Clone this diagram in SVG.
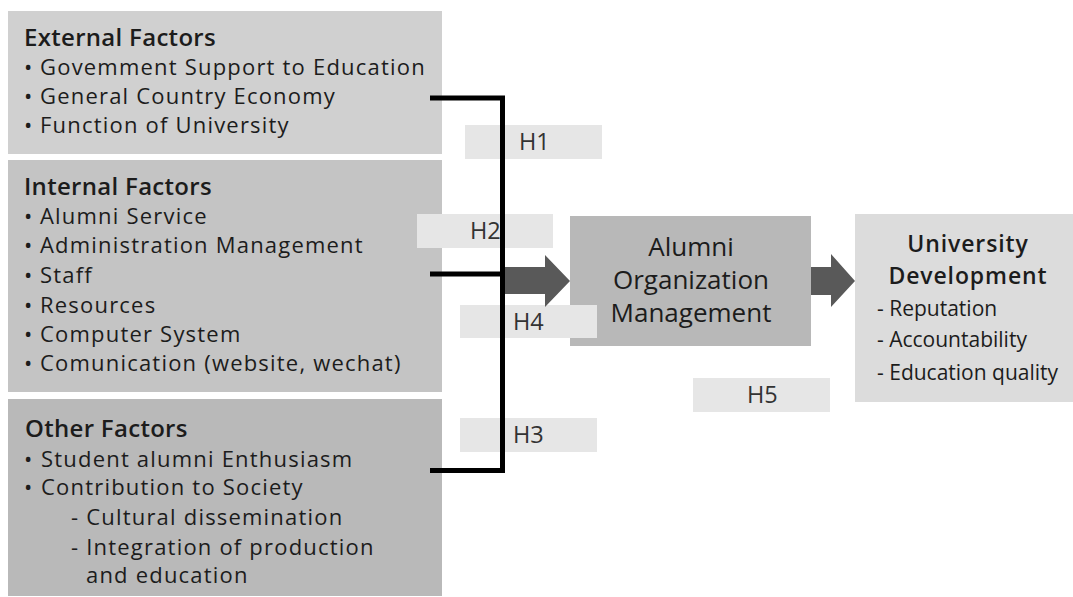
<svg xmlns="http://www.w3.org/2000/svg" width="1073" height="597" viewBox="0 0 1073 597">
  <style>
    .t { font-family: "Open Sans", "Liberation Sans", sans-serif; fill: #1c1c1c; }
    .item { font-size: 22px; letter-spacing: 1.2px; }
    .bullet { font-size: 22px; }
    .head { font-size: 24px; font-weight: 600; letter-spacing: 0.3px; }
    .sub { font-size: 21px; }
    .center { text-anchor: middle; }
    .mid { font-size: 26px; font-weight: 500; }
    .uhead { font-size: 23px; font-weight: 600; letter-spacing: 0.9px; }
    .lab-box { fill: #e6e6e6; }
    .lab { font-size: 23.5px; fill: #333333; }
    .conn { stroke: #000000; stroke-width: 5; fill: none; stroke-linejoin: miter; }
    .arrow { fill: #595959; }
  </style>

  <!-- factor groups -->
  <g id="external-factors">
    <rect x="8" y="11" width="434" height="143" fill="#d0d0d0"/>
    <text class="t head" x="24" y="46">External Factors</text>
    <text class="t bullet" x="24" y="75">•</text>
    <text class="t item" x="40" y="75">Govemment Support to Education</text>
    <text class="t bullet" x="24" y="104">•</text>
    <text class="t item" x="40" y="104">General Country Economy</text>
    <text class="t bullet" x="24" y="133">•</text>
    <text class="t item" x="40" y="133">Function of University</text>
  </g>

  <g id="internal-factors">
    <rect x="8" y="160" width="434" height="232" fill="#c4c4c4"/>
    <text class="t head" x="24" y="195">Internal Factors</text>
    <text class="t bullet" x="24" y="224">•</text>
    <text class="t item" x="40" y="224">Alumni Service</text>
    <text class="t bullet" x="24" y="253">•</text>
    <text class="t item" x="40" y="253">Administration Management</text>
    <text class="t bullet" x="24" y="283">•</text>
    <text class="t item" x="40" y="283">Staff</text>
    <text class="t bullet" x="24" y="313">•</text>
    <text class="t item" x="40" y="313">Resources</text>
    <text class="t bullet" x="24" y="342">•</text>
    <text class="t item" x="40" y="342">Computer System</text>
    <text class="t bullet" x="24" y="371">•</text>
    <text class="t item" x="40" y="371">Comunication (website, wechat)</text>
  </g>

  <g id="other-factors">
    <rect x="8" y="399" width="434" height="197" fill="#b9b9b9"/>
    <text class="t head" x="25" y="437">Other Factors</text>
    <text class="t bullet" x="24" y="467">•</text>
    <text class="t item" x="41" y="467">Student alumni Enthusiasm</text>
    <text class="t bullet" x="24" y="495">•</text>
    <text class="t item" x="41" y="495">Contribution to Society</text>
    <text class="t item" x="71" y="525">- Cultural dissemination</text>
    <text class="t item" x="71" y="555">- Integration of production</text>
    <text class="t item" x="86" y="583">and education</text>
  </g>

  <!-- central and outcome nodes -->
  <g id="alumni-organization-management">
    <rect x="570" y="216" width="241" height="130" fill="#b8b8b8"/>
    <text class="t mid center" x="691" y="256">Alumni</text>
    <text class="t mid center" x="691" y="289">Organization</text>
    <text class="t mid center" x="691" y="322">Management</text>
  </g>

  <g id="university-development">
    <rect x="855" y="214" width="226" height="188" fill="#dcdcdc"/>
    <text class="t uhead center" x="968" y="252">University</text>
    <text class="t uhead center" x="968" y="284">Development</text>
    <text class="t sub" x="877" y="316">- Reputation</text>
    <text class="t sub" x="877" y="347">- Accountability</text>
    <text class="t sub" x="877" y="380">- Education quality</text>
  </g>

  <!-- hypothesis labels -->
  <g id="label-h1">
    <rect class="lab-box" x="465" y="125" width="137" height="34"/>
    <text class="t lab" x="519" y="150">H1</text>
  </g>
  <g id="label-h2">
    <rect class="lab-box" x="417" y="214" width="136" height="34"/>
    <text class="t lab" x="470" y="239">H2</text>
  </g>
  <g id="label-h4">
    <rect class="lab-box" x="460" y="305" width="137" height="33"/>
    <text class="t lab" x="513" y="330">H4</text>
  </g>
  <g id="label-h3">
    <rect class="lab-box" x="460" y="418" width="137" height="34"/>
    <text class="t lab" x="513" y="443">H3</text>
  </g>
  <g id="label-h5">
    <rect class="lab-box" x="693" y="378" width="137" height="34"/>
    <text class="t lab" x="747" y="403">H5</text>
  </g>

  <!-- connectors -->
  <g id="connectors">
    <path class="conn" d="M430,98 H502.5 V470.5 H430 M430,274 H502.5"/>
    <polygon class="arrow" points="505,267 545,267 545,255 570,281 545,307 545,294 505,294"/>
    <polygon class="arrow" points="811,267 831,267 831,254 855,281 831,307 831,295 811,295"/>
  </g>
</svg>
